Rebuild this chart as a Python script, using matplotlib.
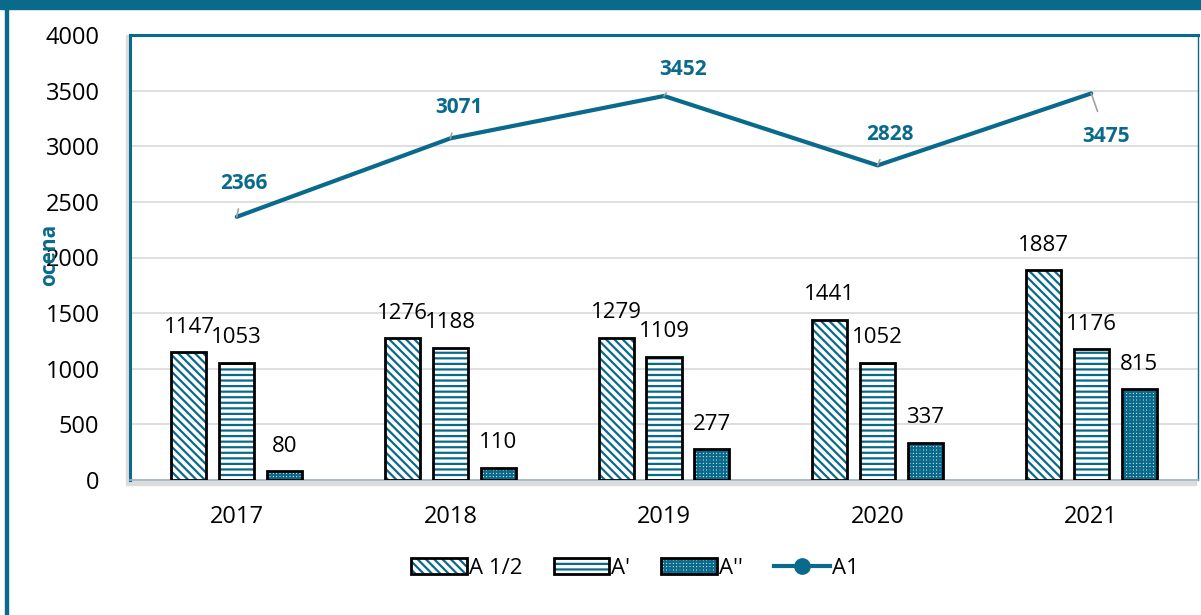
import matplotlib.pyplot as plt
import matplotlib.patches as mpatches
from matplotlib.lines import Line2D
import numpy as np

years = ['2017', '2018', '2019', '2020', '2021']
a_half = [1147, 1276, 1279, 1441, 1887]
a_prime = [1053, 1188, 1109, 1052, 1176]
a_dprime = [80, 110, 277, 337, 815]
a1 = [2366, 3071, 3452, 2828, 3475]

TEAL = '#0a6a8c'
plt.rcParams['font.family'] = ['Open Sans', 'DejaVu Sans']
plt.rcParams['hatch.linewidth'] = 1.6

fig = plt.figure(figsize=(12.01, 6.15), dpi=100)
ax = fig.add_axes([130 / 1201, 1 - 480 / 615, 1068 / 1201, 445 / 615])
ax.set_zorder(2)

# outer frame
fig.patches.append(mpatches.Rectangle((0, 1 - 9 / 615), 1, 9 / 615, transform=fig.transFigure,
                                      color=TEAL, zorder=0))
fig.patches.append(mpatches.Rectangle((5 / 1201, 0), 3 / 1201, 1, transform=fig.transFigure,
                                      color=TEAL, zorder=0))
# soft shadow behind the plot area
fig.patches.append(mpatches.Rectangle((126 / 1201, 1 - 485 / 615), 1070 / 1201, 450 / 615,
                                      transform=fig.transFigure, color='#dcdcdc', zorder=-1))

x = np.arange(len(years))
off = 0.224
w = 0.164
series = [(a_half, '\\\\\\\\', -off), (a_prime, '---', 0), (a_dprime, '+++++', off)]
for vals, hatch, dx in series:
    ax.bar(x + dx, vals, w, color='white', edgecolor=TEAL, hatch=hatch, linewidth=0, zorder=3)
    ax.bar(x + dx, vals, w, fill=False, edgecolor='black', linewidth=2, zorder=4)
    for xi, v in zip(x + dx, vals):
        ax.annotate(str(v), (xi, v), xytext=(0, 18), textcoords='offset points',
                    ha='center', va='center', fontsize=16, color='black', zorder=5)

ax.plot(x, a1, color=TEAL, linewidth=3, zorder=6, solid_capstyle='round')
line_offsets = [(5, 24), (6, 22), (14, 19), (9, 22), (11, -31)]
for xi, v, o in zip(x, a1, line_offsets):
    ax.annotate(str(v), (xi, v), xytext=o, textcoords='offset points', ha='center', va='center',
                fontsize=15, fontweight='bold', color=TEAL, zorder=7,
                arrowprops=dict(arrowstyle='-', color='#a0a0a0', lw=1.2, shrinkA=9, shrinkB=0))

ax.set_xlim(-0.5, 4.5)
ax.set_ylim(0, 4000)
ax.set_yticks(range(0, 4001, 500))
ax.set_xticks(x)
ax.set_xticklabels(years)
ax.tick_params(length=0, labelsize=17)
ax.tick_params(axis='y', pad=22)
ax.tick_params(axis='x', pad=18)
ax.grid(axis='y', color='#d9d9d9', linewidth=1.2, zorder=0)
ax.set_axisbelow(True)
for s in ['top', 'left', 'right']:
    ax.spines[s].set_color(TEAL)
ax.spines['top'].set_linewidth(2.2)
ax.spines['left'].set_linewidth(2.2)
ax.spines['right'].set_linewidth(1)
ax.spines['bottom'].set_color('#9fb7c5')
ax.spines['bottom'].set_linewidth(1.2)

fig.text(50 / 1201, 1 - 255 / 615, 'ocena', rotation=90, ha='center', va='center',
         fontsize=15, fontweight='bold', color=TEAL)


def bar_handle(hatch):
    inner = mpatches.Patch(facecolor='white', edgecolor=TEAL, hatch=hatch, linewidth=0)
    outer = mpatches.Patch(fill=False, edgecolor='black', linewidth=2)
    return (inner, outer)


handles = [bar_handle('\\\\\\\\'), bar_handle('---'), bar_handle('+++++'),
           Line2D([0], [0], color=TEAL, linewidth=3, marker='o', markersize=11)]
fig.legend(handles, ['A 1/2', "A'", "A''", 'A1'], loc='center', ncol=4,
           bbox_to_anchor=(635 / 1201, 1 - 568 / 615), frameon=False, fontsize=16,
           handlelength=2.5, handleheight=0.7, handletextpad=0.1, columnspacing=1.4)

fig.savefig('out.png', dpi=100)
